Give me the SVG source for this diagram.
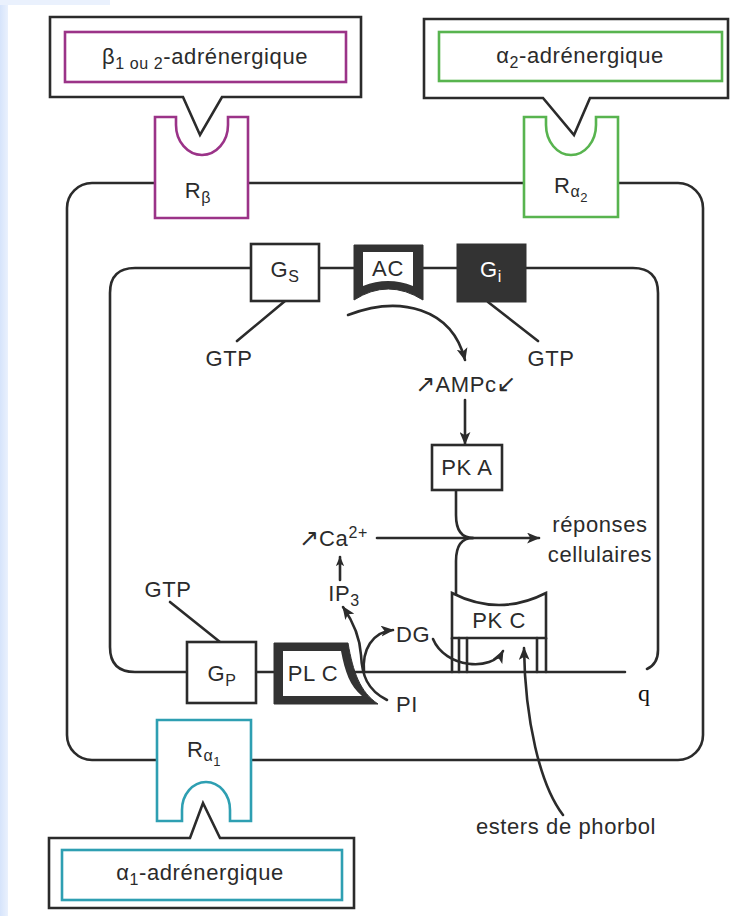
<svg xmlns="http://www.w3.org/2000/svg" width="731" height="916" viewBox="0 0 731 916">
<defs>
<linearGradient id="edge" x1="0" y1="0" x2="1" y2="0">
<stop offset="0" stop-color="#d6e4fb"/>
<stop offset="1" stop-color="#eaf1fd"/>
</linearGradient>
<marker id="ah" viewBox="0 0 12 10" refX="11" refY="5" markerWidth="13" markerHeight="11" orient="auto" markerUnits="userSpaceOnUse">
<path d="M0,0 L12,5 L0,10 L3,5 Z" fill="#2b2b2b"/>
</marker>
<marker id="ahs" viewBox="0 0 12 10" refX="11" refY="5" markerWidth="10" markerHeight="9" orient="auto" markerUnits="userSpaceOnUse">
<path d="M0,0 L12,5 L0,10 L3,5 Z" fill="#2b2b2b"/>
</marker>
</defs>
<style>
.ln{fill:none;stroke:#2b2b2b;stroke-width:2.6;stroke-linecap:round}
.bx{fill:#fff;stroke:#2b2b2b;stroke-width:2.6}
.t{font-family:"Liberation Sans",Arial,sans-serif;font-size:22px;fill:#2b2b2b;letter-spacing:0.6px}
.c{text-anchor:middle}
.sub{font-size:16px}
.ar{font-family:"DejaVu Sans",sans-serif;font-size:24px;letter-spacing:0}
.pur{fill:#fff;stroke:#9b3388;stroke-width:2.6}
.grn{fill:#fff;stroke:#58b44f;stroke-width:2.6}
.cyn{fill:#fff;stroke:#2e9fb2;stroke-width:2.6}
</style>
<rect width="731" height="916" fill="#fff"/>
<rect x="0" y="0" width="8" height="916" fill="url(#edge)"/>
<rect x="0" y="0" width="110" height="5" fill="#eaf1fd"/>

<g id="membranes">
<rect class="ln" x="67" y="183" width="636" height="577" rx="25"/>
<path class="ln" d="M625,672 H135 Q110,672 110,647 V293 Q110,268 135,268 H633 Q658,268 658,293 V650 Q658,664 647,669"/>
</g>

<g id="connectors">
<path class="ln" d="M285,301 L237,341"/>
<path class="ln" d="M488,302 L538,341"/>
<path class="ln" d="M220,642 L170,602"/>
<path class="ln" d="M348,315 C400,295 452,308 465,360" marker-end="url(#ah)"/>
<path class="ln" d="M465,400 V444" marker-end="url(#ah)"/>
<path class="ln" d="M456,490 V515 C456,530 462,538 473,538"/>
<path class="ln" d="M456,594 V561 C456,546 462,538 473,538"/>
<path class="ln" d="M377,538 H539" marker-end="url(#ah)"/>
<path class="ln" d="M340,580 V557" marker-end="url(#ahs)"/>
<path class="ln" d="M387,700 C367,690 362,675 361,655 C360,638 352,620 343,607" marker-end="url(#ah)"/>
<path class="ln" d="M364,672 C362,650 372,632 393,630" marker-end="url(#ah)"/>
<path class="ln" d="M433,639 C445,668 492,672 503,651" marker-end="url(#ah)"/>
<path class="ln" d="M563,815 C540,785 525,720 524,648" marker-end="url(#ah)"/>
</g>

<g id="label-beta">
<path class="bx" d="M50,17 H361 V97 H222 L200,135 L183,97 H50 Z" stroke="#1a1a1a"/>
<rect class="pur" x="65" y="32" width="281" height="50"/>
<text class="t c" x="205" y="64">β<tspan class="sub" dy="5">1 ou 2</tspan><tspan dy="-5">-adrénergique</tspan></text>
</g>

<g id="label-alpha2">
<path class="bx" d="M424,19 H728 V98 H590 L574,135 L543,98 H424 Z" stroke="#1a1a1a"/>
<rect class="grn" x="439" y="32" width="283" height="49"/>
<text class="t c" x="580" y="63">α<tspan class="sub" dy="5">2</tspan><tspan dy="-5">-adrénergique</tspan></text>
</g>

<g id="label-alpha1">
<path class="bx" d="M49,838 H190 L203,803 L220,838 H354 V908 H49 Z" stroke="#1a1a1a"/>
<rect class="cyn" x="62" y="850" width="280" height="50"/>
<text class="t c" x="200" y="880">α<tspan class="sub" dy="5">1</tspan><tspan dy="-5">-adrénergique</tspan></text>
</g>

<g id="R-beta">
<path class="pur" d="M155,117 H176 V125 A26,30 0 0 0 228,125 V117 H248 V218 H155 Z"/>
<text class="t c" x="198" y="198">R<tspan class="sub" dy="5">β</tspan></text>
</g>

<g id="R-alpha2">
<path class="grn" d="M524,117 H546 V125 A25,30 0 0 0 596,125 V117 H618 V217 H524 Z"/>
<text class="t c" x="571" y="193">R<tspan class="sub" dy="4">α</tspan><tspan style="font-size:13px" dy="5">2</tspan></text>
</g>

<g id="R-alpha1">
<path class="cyn" d="M157,821 H182 V810 A24,28 0 0 1 230,810 V821 H251 V720 H157 Z"/>
<text class="t c" x="204" y="757">R<tspan class="sub" dy="4">α</tspan><tspan style="font-size:13px" dy="5">1</tspan></text>
</g>

<g id="Gs">
<rect class="bx" x="251" y="244" width="68" height="57"/>
<text class="t c" x="285" y="277">G<tspan class="sub" dy="5">S</tspan></text>
</g>

<g id="AC">
<path d="M354,245 H423 V300 Q388,278 354,300 Z" fill="#333" stroke="#333" stroke-width="1"/>
<path d="M363,252 H413 V286 Q388,276 363,286 Z" fill="#fff"/>
<text class="t c" x="388" y="276">AC</text>
</g>

<g id="Gi">
<rect x="457" y="244" width="69" height="58" fill="#333" stroke="#333" stroke-width="1"/>
<text class="t c" x="491" y="277" style="fill:#fff">G<tspan class="sub" dy="5">i</tspan></text>
</g>

<g id="GTP-s"><text class="t c" x="229" y="366">GTP</text></g>
<g id="GTP-i"><text class="t c" x="551" y="366">GTP</text></g>
<g id="GTP-p"><text class="t c" x="168" y="597">GTP</text></g>

<g id="AMPc">
<text class="t c" x="466" y="392"><tspan class="ar">↗</tspan>AMPc<tspan class="ar">↙</tspan></text>
</g>

<g id="PKA">
<rect class="bx" x="432" y="445" width="70" height="45"/>
<text class="t c" x="467" y="475">PK A</text>
</g>

<g id="Ca">
<text class="t" x="299" y="546"><tspan class="ar">↗</tspan>Ca<tspan class="sub" dy="-8">2+</tspan></text>
</g>

<g id="reponses">
<text class="t c" x="600" y="532">réponses</text>
<text class="t c" x="600" y="562">cellulaires</text>
</g>

<g id="IP3">
<text class="t c" x="344" y="601">IP<tspan class="sub" dy="5">3</tspan></text>
</g>

<g id="DG">
<text class="t" x="396" y="642">DG</text>
</g>

<g id="PKC">
<path class="bx" d="M452,593 Q499,617 546,593 V638 H452 Z"/>
<path class="ln" d="M452,638 V672 M459,638 V672 M467,638 V672 M537,638 V672 M546,638 V672"/>
<text class="t c" x="499" y="628">PK C</text>
</g>

<g id="Gp">
<rect class="bx" x="187" y="642" width="69" height="61"/>
<text class="t c" x="222" y="681">G<tspan class="sub" dy="5">P</tspan></text>
</g>

<g id="PLC">
<path d="M274,643 H348 C353,672 360,692 378,704 H274 Z" fill="#333" stroke="#333" stroke-width="1"/>
<path d="M283,651 H341 C345,672 350,686 362,696 H283 Z" fill="#fff"/>
<text class="t c" x="313" y="681">PL C</text>
</g>

<g id="PI"><text class="t c" x="407" y="712">PI</text></g>

<g id="esters"><text class="t c" x="566" y="834">esters de phorbol</text></g>

<g id="q"><text x="638" y="701" style="font-family:'Liberation Serif',serif;font-size:24px;fill:#111">q</text></g>
</svg>
